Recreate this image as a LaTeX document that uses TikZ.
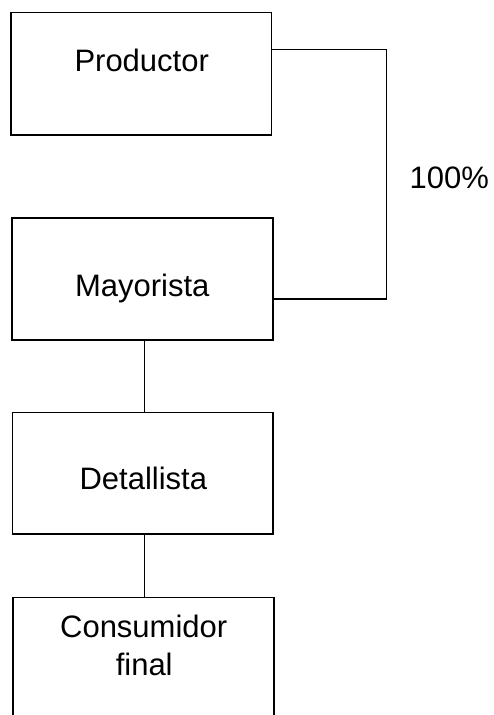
\documentclass[tikz,border=0pt]{standalone}
\usepackage{fontspec}
\setmainfont{Liberation Sans}
\begin{document}
\begin{tikzpicture}[x=1pt,y=1pt,
  box/.style={draw, line width=1.2pt, rectangle, inner sep=0pt, outer sep=0pt},
  conn/.style={line width=1.1pt},
  lbl/.style={anchor=base, inner sep=0pt, font=\fontsize{31}{37}\selectfont}]
\useasboundingbox (0,0) rectangle (493,-715);
\clip (0,0) rectangle (493,-715);
\node[box, minimum width=260.5pt, minimum height=122.5pt] (prod) at (141.25,-73.75) {};
\node[box, minimum width=261pt, minimum height=122pt] (may) at (142.5,-279) {};
\node[box, minimum width=260.7pt, minimum height=121.7pt] (det) at (142.65,-473.15) {};
\node[box, minimum width=261pt, minimum height=122.3pt] (cons) at (143.5,-658.85) {};
\node[lbl] (tprod) at (141.7,-71) {Productor};
\node[lbl] (tmay) at (142.3,-296) {Mayorista};
\node[lbl] (tdet) at (143.3,-489.3) {Detallista};
\node[lbl] (tcons1) at (143.7,-637.7) {Consumidor};
\node[lbl] (tcons2) at (144.2,-675) {final};
\node[lbl] (pct) at (449.3,-188.3) {100\%};
\coordinate (r1) at (386.7,-49.3);
\coordinate (r2) at (386.7,-299);
\draw[conn] ([yshift=-36.8pt]prod.north east) -- (r1) -- (r2) -- ([yshift=-81pt]may.north east);
\draw[conn] ([xshift=2pt]may.south) -- ([xshift=2pt]may.south |- det.north);
\draw[conn] ([xshift=2pt]det.south) -- ([xshift=2pt]det.south |- cons.north);
\end{tikzpicture}
\end{document}
